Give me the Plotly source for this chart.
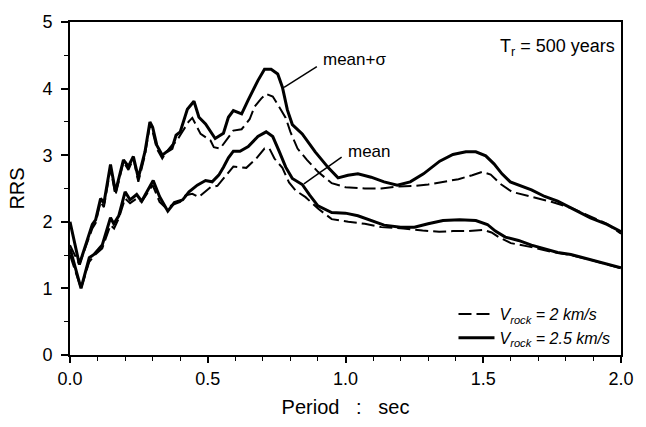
import plotly.graph_objects as go

# mean + sigma, Vrock = 2.5 km/s (solid)
x_ms_25 = [0, 0.034, 0.081, 0.093, 0.111, 0.123, 0.147, 0.165, 0.194, 0.212, 0.23, 0.248, 0.272, 0.29, 0.30,
           0.315, 0.335, 0.35, 0.37, 0.385, 0.40, 0.415, 0.426, 0.45, 0.468, 0.492, 0.527, 0.557, 0.575, 0.593,
           0.623, 0.647, 0.682, 0.706, 0.73, 0.754, 0.771, 0.789, 0.807, 0.843, 0.89, 0.938, 0.973, 1.009, 1.045,
           1.093, 1.14, 1.188, 1.235, 1.283, 1.342, 1.39, 1.437, 1.473, 1.509, 1.539, 1.568, 1.598, 1.628, 1.675,
           1.723, 1.77, 1.818, 1.889, 1.949, 2.0]
y_ms_25 = [2.0, 1.36, 1.96, 2.03, 2.35, 2.28, 2.86, 2.45, 2.93, 2.83, 2.98, 2.66, 3.05, 3.5, 3.42,
           3.15, 3.0, 3.05, 3.1, 3.3, 3.35, 3.55, 3.69, 3.81, 3.57, 3.47, 3.25, 3.33, 3.57, 3.67,
           3.62, 3.83, 4.12, 4.29, 4.29, 4.22, 4.02, 3.68, 3.46, 3.32, 3.05, 2.81, 2.66, 2.7, 2.72,
           2.67, 2.6, 2.55, 2.6, 2.72, 2.91, 3.01, 3.05, 3.05, 2.99, 2.87, 2.72, 2.6, 2.55, 2.48,
           2.38, 2.31, 2.21, 2.06, 1.96, 1.85]

# mean + sigma, Vrock = 2 km/s (dashed)
x_ms_20 = [0, 0.034, 0.081, 0.093, 0.111, 0.123, 0.147, 0.165, 0.194, 0.212, 0.23, 0.248, 0.272, 0.29, 0.30,
           0.315, 0.335, 0.35, 0.37, 0.385, 0.40, 0.415, 0.43, 0.444, 0.474, 0.51, 0.522, 0.545, 0.593, 0.623,
           0.652, 0.67, 0.694, 0.712, 0.736, 0.76, 0.783, 0.80, 0.826, 0.86, 0.90, 0.95, 1.0, 1.07, 1.13,
           1.19, 1.25, 1.30, 1.35, 1.41, 1.46, 1.497, 1.527, 1.562, 1.604, 1.651, 1.699, 1.747, 1.818, 1.889,
           1.949, 2.0]
y_ms_20 = [1.65, 1.36, 1.9, 1.98, 2.3, 2.22, 2.8, 2.4, 2.9, 2.78, 2.95, 2.6, 3.0, 3.45, 3.35,
           3.1, 2.95, 3.05, 3.15, 3.2, 3.3, 3.4, 3.5, 3.56, 3.32, 3.22, 3.12, 3.1, 3.37, 3.39,
           3.54, 3.73, 3.85, 3.92, 3.88, 3.72, 3.56, 3.35, 3.1, 2.93, 2.75, 2.58, 2.52, 2.5, 2.5,
           2.53, 2.54, 2.56, 2.6, 2.64, 2.7, 2.75, 2.71, 2.57, 2.45, 2.4, 2.35, 2.3, 2.21, 2.08,
           1.97, 1.82]

# mean, Vrock = 2.5 km/s (solid)
x_m_25 = [0, 0.04, 0.07, 0.087, 0.117, 0.147, 0.159, 0.177, 0.2, 0.218, 0.242, 0.26, 0.302, 0.325, 0.355,
          0.379, 0.409, 0.432, 0.462, 0.492, 0.516, 0.54, 0.557, 0.575, 0.593, 0.617, 0.647, 0.682, 0.712, 0.736,
          0.759, 0.783, 0.807, 0.843, 0.87, 0.90, 0.95, 1.0, 1.045, 1.093, 1.14, 1.2, 1.25, 1.3, 1.354,
          1.414, 1.473, 1.515, 1.544, 1.58, 1.628, 1.675, 1.723, 1.77, 1.818, 1.889, 2.0]
y_m_25 = [1.6, 1.0, 1.46, 1.51, 1.65, 2.06, 1.97, 2.09, 2.45, 2.33, 2.41, 2.31, 2.62, 2.38, 2.16,
          2.29, 2.33, 2.45, 2.55, 2.62, 2.6, 2.7, 2.82, 2.96, 3.06, 3.06, 3.13, 3.28, 3.35, 3.28,
          3.06, 2.82, 2.65, 2.56, 2.4, 2.24, 2.14, 2.13, 2.09, 2.02, 1.95, 1.92, 1.92, 1.97, 2.02,
          2.03, 2.02, 1.96, 1.86, 1.77, 1.72, 1.65, 1.6, 1.54, 1.51, 1.43, 1.31]

# mean, Vrock = 2 km/s (dashed)
x_m_20 = [0, 0.04, 0.07, 0.09, 0.117, 0.147, 0.16, 0.177, 0.2, 0.218, 0.242, 0.26, 0.30, 0.325, 0.35,
          0.37, 0.40, 0.42, 0.444, 0.467, 0.51, 0.535, 0.593, 0.64, 0.676, 0.706, 0.724, 0.742, 0.771, 0.795,
          0.819, 0.855, 0.90, 0.95, 1.01, 1.07, 1.13, 1.21, 1.28, 1.34, 1.39, 1.44, 1.50, 1.53, 1.556,
          1.60, 1.675, 1.747, 1.818, 1.889, 2.0]
y_m_20 = [1.5, 1.0, 1.4, 1.5, 1.6, 1.95, 1.9, 2.05, 2.35, 2.28, 2.35, 2.3, 2.55, 2.3, 2.2,
          2.25, 2.3, 2.4, 2.42, 2.37, 2.52, 2.54, 2.83, 2.81, 2.95, 3.1, 3.1, 2.95, 2.81, 2.59,
          2.47, 2.37, 2.2, 2.04, 2.0, 1.97, 1.92, 1.9, 1.87, 1.85, 1.86, 1.86, 1.88, 1.84, 1.77,
          1.68, 1.62, 1.55, 1.5, 1.43, 1.3]

x_tick_vals = [0, 0.5, 1.0, 1.5, 2.0]
x_tick_text = ["0.0", "0.5", "1.0", "1.5", "2.0"]
y_tick_vals = [0, 1, 2, 3, 4, 5]

legend_dashed = "<i>V<sub>rock</sub> = 2 km/s</i>"
legend_solid = "<i>V<sub>rock</sub> = 2.5 km/s</i>"
NB = "\u00a0"
x_title = "Period" + NB * 3 + ":" + NB * 3 + "sec"

FONT = "Liberation Sans, Arial, sans-serif"
DASH = "13px,5px"

fig = go.Figure()
fig.add_trace(go.Scatter(x=x_ms_20, y=y_ms_20, mode="lines", name=legend_dashed,
                         line=dict(color="black", width=2, dash=DASH), showlegend=True))
fig.add_trace(go.Scatter(x=x_ms_25, y=y_ms_25, mode="lines", name=legend_solid,
                         line=dict(color="black", width=3), showlegend=True))
fig.add_trace(go.Scatter(x=x_m_20, y=y_m_20, mode="lines", name=legend_dashed,
                         line=dict(color="black", width=2, dash=DASH), showlegend=False))
fig.add_trace(go.Scatter(x=x_m_25, y=y_m_25, mode="lines", name=legend_solid,
                         line=dict(color="black", width=3), showlegend=False))

# leader lines for labels
fig.add_shape(type="line", x0=0.777, y0=4.02, x1=0.896, y1=4.33, line=dict(color="black", width=1.5))
fig.add_shape(type="line", x0=0.849, y0=2.57, x1=0.986, y1=2.97, line=dict(color="black", width=1.5))

fig.add_annotation(x=0.912, y=4.44, text="mean+σ", showarrow=False, xanchor="left", yanchor="middle",
                   font=dict(size=17, family=FONT, color="black"))
fig.add_annotation(x=1.0, y=3.05, text="mean", showarrow=False, xanchor="left", yanchor="middle",
                   font=dict(size=17, family=FONT, color="black"))
fig.add_annotation(x=1.985, y=4.62, text="T<sub>r</sub> = 500 years", showarrow=False, xanchor="right",
                   yanchor="middle", font=dict(size=18, family=FONT, color="black"))

fig.update_layout(
    width=646, height=427,
    margin=dict(l=70, r=15, t=14, b=72),
    paper_bgcolor="white", plot_bgcolor="white",
    font=dict(family=FONT, color="black", size=17),
    showlegend=True,
    legend=dict(x=0.99, y=0.0, xanchor="right", yanchor="bottom", bgcolor="rgba(0,0,0,0)",
                font=dict(size=16, family=FONT), tracegroupgap=0, itemwidth=36),
)
fig.update_xaxes(range=[0, 2], tickvals=x_tick_vals, ticktext=x_tick_text,
                 ticks="outside", ticklen=6, tickwidth=1.5, tickcolor="black",
                 minor=dict(dtick=0.1, ticks="outside", ticklen=4, tickwidth=1.2, tickcolor="black"),
                 showline=True, linewidth=2, linecolor="black", mirror=True, showgrid=False, zeroline=False,
                 title=dict(text=x_title, font=dict(size=20), standoff=12),
                 tickfont=dict(size=18))
fig.update_yaxes(range=[0, 5], tickvals=y_tick_vals,
                 ticks="outside", ticklen=7, tickwidth=1.5, tickcolor="black",
                 minor=dict(dtick=0.5, ticks="outside", ticklen=4, tickwidth=1.2, tickcolor="black"),
                 showline=True, linewidth=2, linecolor="black", mirror=True, showgrid=False, zeroline=False,
                 title=dict(text="RRS", font=dict(size=20), standoff=12),
                 tickfont=dict(size=18), ticklabelstandoff=5)

fig.write_html("out.html")
